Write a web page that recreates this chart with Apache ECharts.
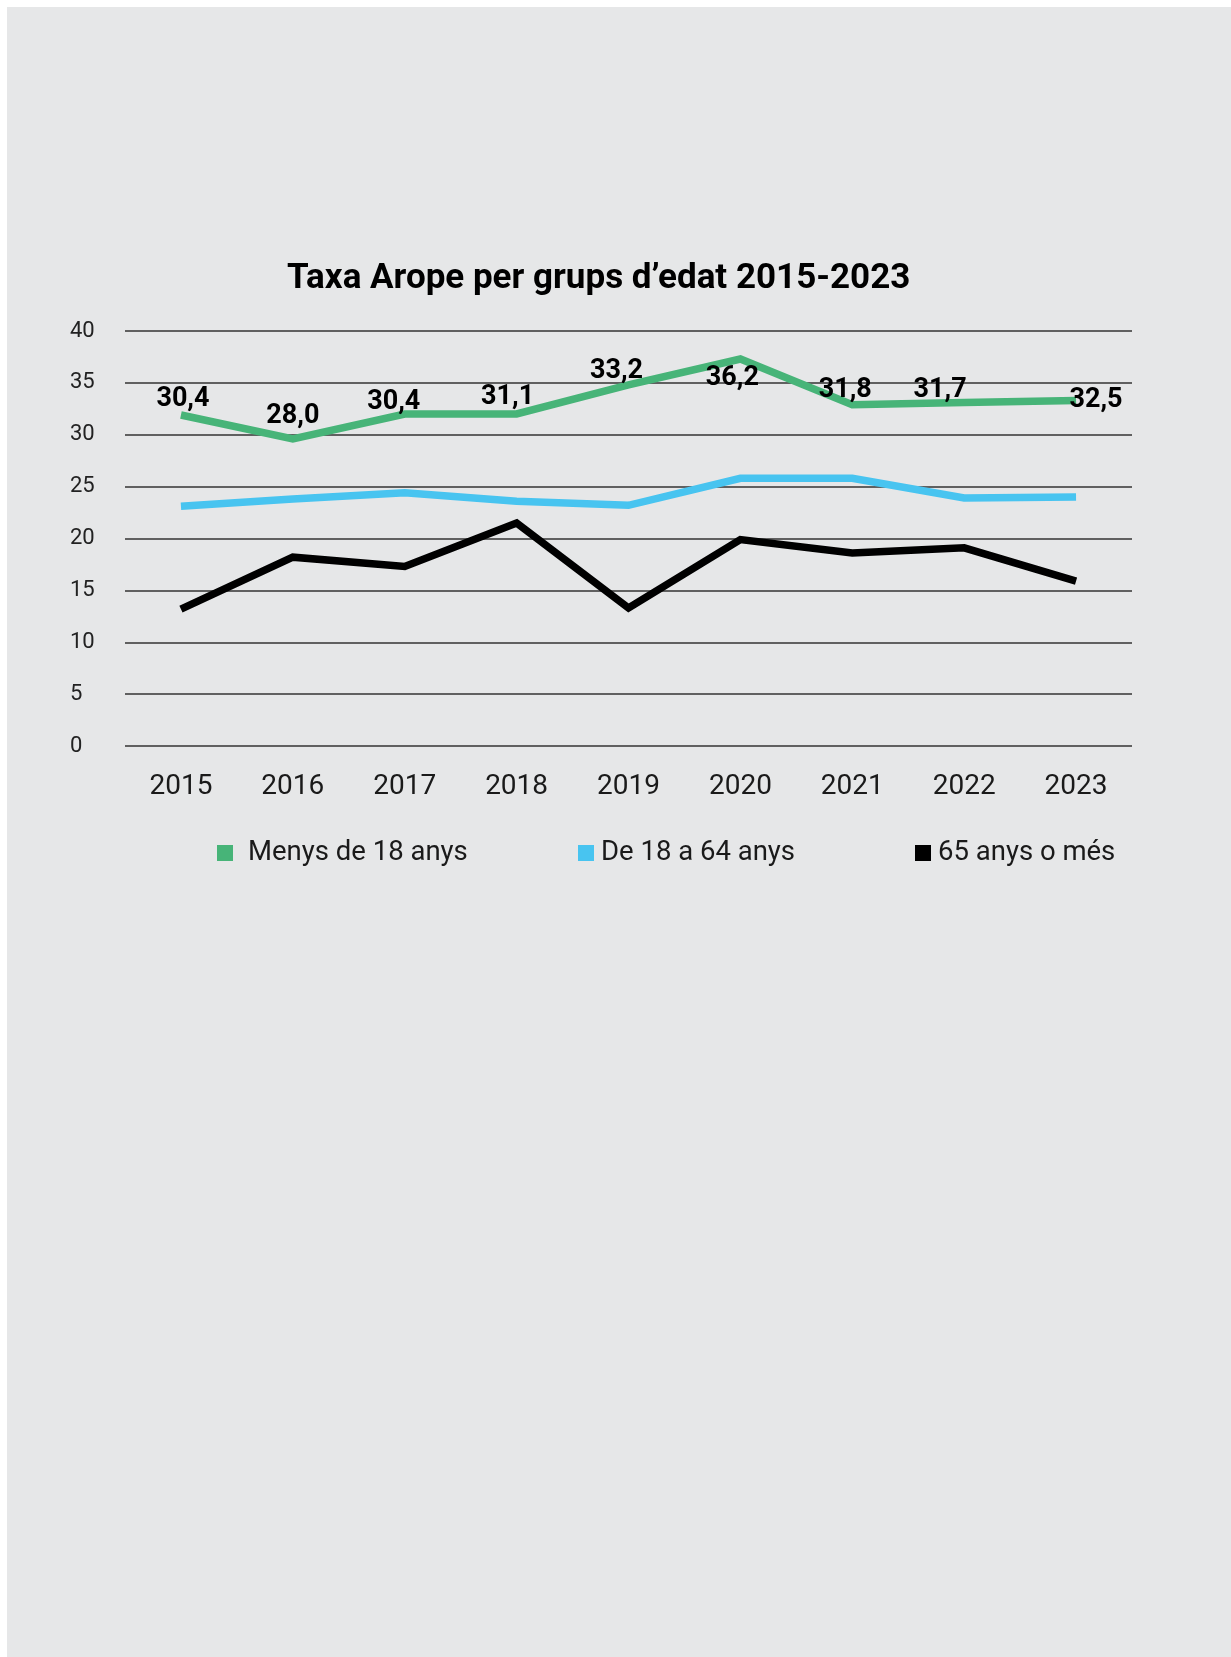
<!DOCTYPE html>
<html>
<head>
<meta charset="utf-8">
<script src="https://cdn.jsdelivr.net/npm/echarts@6/dist/echarts.min.js"></script>
<style>
  html, body { margin: 0; padding: 0; background: #ffffff; }
  #bg { position: absolute; left: 7px; top: 7px; width: 1224px; height: 1650px; background: #e6e7e8; }
  #chart { position: absolute; left: 0; top: 0; width: 1231px; height: 1657px; }
</style>
</head>
<body>
<div id="bg"></div>
<div id="chart"></div>
<script>
// ---- data ----
const years = ['2015', '2016', '2017', '2018', '2019', '2020', '2021', '2022', '2023'];
const seriesNames = ['Menys de 18 anys', 'De 18 a 64 anys', '65 anys o més'];
const menys18 = [31.9, 29.6, 32.0, 32.0, 34.8, 37.3, 32.9, 33.1, 33.3];
const de18a64 = [23.1, 23.8, 24.4, 23.6, 23.2, 25.8, 25.8, 23.9, 24.0];
const mes65 = [13.2, 18.2, 17.3, 21.5, 13.3, 19.9, 18.6, 19.1, 15.9];
const menys18Labels = ['30,4', '28,0', '30,4', '31,1', '33,2', '36,2', '31,8', '31,7', '32,5'];
const titleText = 'Taxa Arope per grups d\u2019edat 2015-2023';

// ---- layout / style ----
const FONT = 'Roboto';
const colors = ['#47b478', '#48c4f0', '#000000'];
const labelNudge = [[2, 3], [0, -4], [-11, 7], [-9, 2], [-12, 5], [-8, 38], [-7, 4], [-24, 6], [20, 18]];

const chart = echarts.init(document.getElementById('chart'), null, { renderer: 'canvas' });

function lineSeries(name, data, color, extra) {
  return Object.assign({
    name: name,
    type: 'line',
    data: data,
    symbol: 'circle',
    symbolSize: 0,
    showSymbol: true,
    itemStyle: { color: color },
    lineStyle: { color: color, width: 7.5, join: 'miter', cap: 'butt' },
    emphasis: { disabled: true },
    animation: false
  }, extra || {});
}

function legendFor(i, left, pad) {
  return {
    data: [{ name: seriesNames[i], itemStyle: { color: colors[i], borderWidth: 0 } }],
    left: left,
    top: 839,
    padding: 0,
    icon: 'rect',
    itemWidth: 16,
    itemHeight: 16,
    selectedMode: false,
    textStyle: { fontFamily: FONT, fontSize: 27.5, color: '#1a1a1a', padding: [0, 0, 0, pad] }
  };
}

const option = {
  backgroundColor: 'transparent',
  animation: false,
  title: {
    text: titleText,
    left: 287,
    top: 262,
    padding: 0,
    textStyle: { fontFamily: FONT, fontSize: 35, fontWeight: 'bold', color: '#000' }
  },
  legend: [legendFor(0, 217, 10), legendFor(1, 578, 2), legendFor(2, 915, 2)],
  grid: { left: 125, right: 99, top: 331, bottom: 911, containLabel: false },
  xAxis: {
    type: 'category',
    data: years,
    boundaryGap: true,
    axisLine: { show: false },
    axisTick: { show: false },
    axisLabel: { fontFamily: FONT, fontSize: 28, color: '#1a1a1a', margin: 27 },
    splitLine: { show: false }
  },
  yAxis: {
    type: 'value',
    min: 0,
    max: 40,
    interval: 5,
    axisLine: { show: false },
    axisTick: { show: false },
    axisLabel: { fontFamily: FONT, fontSize: 22, color: '#222', align: 'left', margin: 55 },
    splitLine: { lineStyle: { color: '#333', width: 1.6 } }
  },
  series: [
    lineSeries(seriesNames[0], menys18.map((v, i) => ({ value: v, label: { offset: labelNudge[i] } })), colors[0], {
      z: 3,
      label: {
        show: true,
        position: 'top',
        distance: 5,
        formatter: p => menys18Labels[p.dataIndex],
        fontFamily: FONT,
        fontSize: 27,
        fontWeight: 'bold',
        color: '#000'
      }
    }),
    lineSeries(seriesNames[1], de18a64, colors[1]),
    lineSeries(seriesNames[2], mes65, colors[2])
  ]
};

chart.setOption(option);
</script>
</body>
</html>
